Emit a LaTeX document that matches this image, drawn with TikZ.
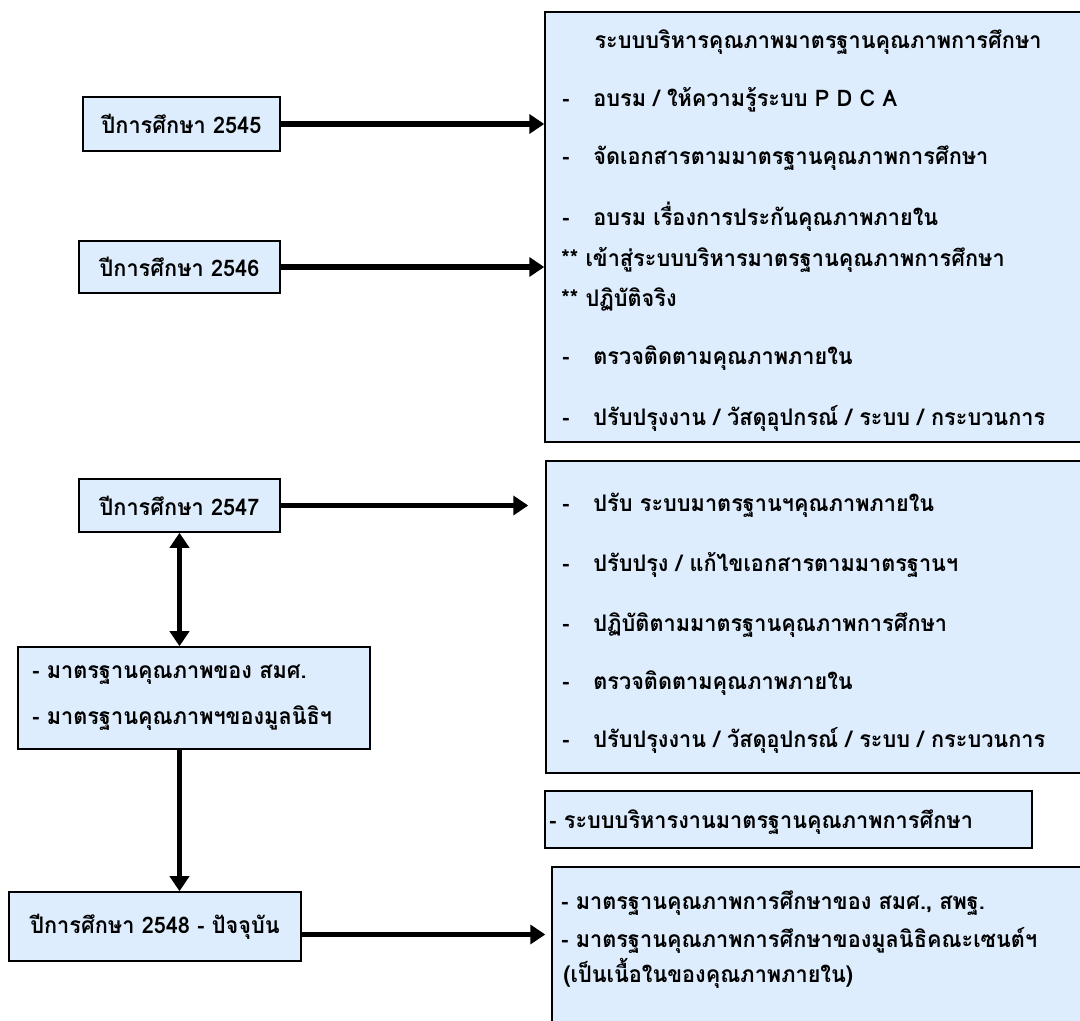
\documentclass[tikz,border=0pt]{standalone}
\usepackage{fontspec}
\newfontfamily\thai[Script=Thai,FakeStretch=0.95]{Loma}
\usetikzlibrary{arrows.meta}
\definecolor{boxblue}{RGB}{221,237,253}
\tikzset{
  box/.style={draw=black,fill=boxblue,line width=0.9pt},
  flow/.style={line width=3pt,-{Triangle[length=0.3cm,width=0.38cm]}},
  twoway/.style={line width=3pt,{Triangle[length=0.3cm,width=0.38cm]}-{Triangle[length=0.3cm,width=0.38cm]}},
  txt/.style={anchor=west,inner sep=0pt,font=\thai\bfseries\fontsize{13}{15}\selectfont}
}
\newcommand{\dashline}[1]{\makebox[0.62cm][l]{-}#1}
\begin{document}
\begin{tikzpicture}[x=0.02cm,y=-0.02cm]
\useasboundingbox (0,0) rectangle (1080,1021);
\clip (0,0) rectangle (1080,1021);

% years on the left
\node[box,txt,anchor=center,minimum width=3.94cm,minimum height=1.08cm] (y2545) at (181.5,124) {ปีการศึกษา 2545};
\node[box,txt,anchor=center,minimum width=4.02cm,minimum height=1.04cm] (y2546) at (179.5,267) {ปีการศึกษา 2546};
\node[box,txt,anchor=center,minimum width=4.02cm,minimum height=1.06cm] (y2547) at (179.5,505.5) {ปีการศึกษา 2547};
\node[box,minimum width=7.04cm,minimum height=2.04cm] (std) at (194,698) {};
\node[box,txt,anchor=center,minimum width=5.84cm,minimum height=1.38cm] (y2548) at (155,926.5) {ปีการศึกษา 2548 - ปัจจุบัน};

\node[txt] (std1) at (32,675) {- มาตรฐานคุณภาพของ สมศ.};
\node[txt] (std2) at (32,718) {- มาตรฐานคุณภาพฯของมูลนิธิฯ};

% boxes on the right
\node[box,minimum width=10.9cm,minimum height=8.6cm] (top) at (817.5,227) {}; %top
\node[box,minimum width=10.88cm,minimum height=6.24cm] (mid) at (818,617) {}; %middle
\node[box,minimum width=9.74cm,minimum height=1.14cm] (sys) at (788.5,819.5) {}; %small
\node[box,minimum width=10.76cm,minimum height=3.36cm] (low) at (821,951) {}; %bottom

\node[txt,anchor=center] (top0) at (818,42) {ระบบบริหารคุณภาพมาตรฐานคุณภาพการศึกษา};
\node[txt] (top1) at (562,100) {\dashline{อบรม / ให้ความรู้ระบบ P D C A}};
\node[txt] (top2) at (562,158) {\dashline{จัดเอกสารตามมาตรฐานคุณภาพการศึกษา}};
\node[txt] (top3) at (562,217) {\dashline{อบรม เรื่องการประกันคุณภาพภายใน}};
\node[txt] (top4) at (561,260) {** เข้าสู่ระบบบริหารมาตรฐานคุณภาพการศึกษา};
\node[txt] (top5) at (561,300) {** ปฏิบัติจริง};
\node[txt] (top6) at (562,358) {\dashline{ตรวจติดตามคุณภาพภายใน}};
\node[txt] (top7) at (562,418) {\dashline{ปรับปรุงงาน / วัสดุอุปกรณ์ / ระบบ / กระบวนการ}};

\node[txt] (mid1) at (562,505) {\dashline{ปรับ ระบบมาตรฐานฯคุณภาพภายใน}};
\node[txt] (mid2) at (562,565) {\dashline{ปรับปรุง / แก้ไขเอกสารตามมาตรฐานฯ}};
\node[txt] (mid3) at (562,625) {\dashline{ปฏิบัติตามมาตรฐานคุณภาพการศึกษา}};
\node[txt] (mid4) at (562,683) {\dashline{ตรวจติดตามคุณภาพภายใน}};
\node[txt] (mid5) at (562,740) {\dashline{ปรับปรุงงาน / วัสดุอุปกรณ์ / ระบบ / กระบวนการ}};

\node[txt] (sys1) at (549,822) {- ระบบบริหารงานมาตรฐานคุณภาพการศึกษา};

\node[txt] (low1) at (561,903) {- มาตรฐานคุณภาพการศึกษาของ สมศ., สพฐ.};
\node[txt] (low2) at (561,940) {- มาตรฐานคุณภาพการศึกษาของมูลนิธิคณะเซนต์ฯ};
\node[txt] (low3) at (563,973) {(เป็นเนื้อในของคุณภาพภายใน)};

% arrows
\draw[flow] (y2545.east) -- (y2545.east -| top.west);
\draw[flow] (y2546.east) -- (y2546.east -| top.west);
\draw[flow,shorten >=0.34cm] (y2547.east) -- (y2547.east -| mid.west);
\draw[twoway] (y2547.south) -- (y2547.south |- std.north);
\draw[flow] (std.south -| y2547.south) -- (y2548.north -| y2547.south);
\draw[flow,shorten >=0.12cm] ([yshift=-0.16cm]y2548.east) -- ([yshift=-0.16cm]y2548.east -| low.west);
\end{tikzpicture}
\end{document}
